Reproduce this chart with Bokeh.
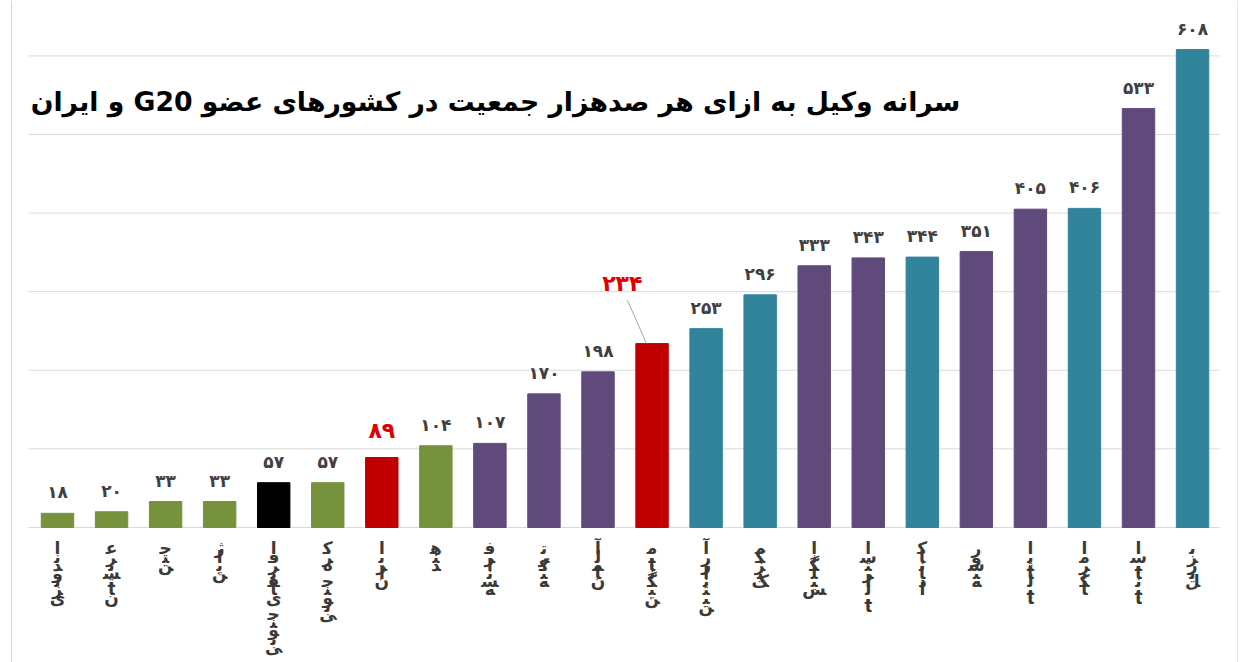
import unicodedata
from bokeh.plotting import figure
from bokeh.models import ColumnDataSource, Range1d, Label, Span
from bokeh.core.properties import value
from bokeh.embed import file_html
from bokeh.resources import INLINE

# ---------------- data ----------------
countries = ["اندونزی", "عربستان", "چین", "ژاپن", "افریقای جنوبی", "کره جنوبی",
             "ایران", "هند", "فرانسه", "ترکیه", "آلمان", "میانگین", "آرژانتین",
             "مکزیک", "انگلیس", "استرالیا", "کانادا", "روسیه", "ایتالیا",
             "امریکا", "اسپانیا", "برزیل"]
values = [18, 20, 33, 33, 57, 57, 89, 104, 107, 170, 198, 234, 253,
          296, 333, 343, 344, 351, 405, 406, 533, 608]
groups = ["g", "g", "g", "g", "k", "g", "r", "g", "p", "p", "p", "r", "t",
          "t", "p", "p", "t", "p", "p", "t", "p", "t"]
y_ticks = [0, 100, 200, 300, 400, 500, 600]
title_text = "سرانه وکیل به ازای هر صدهزار جمعیت در کشورهای عضو G20 و ایران"

palette = {"g": "#76923C", "k": "#000000", "r": "#C00000",
           "p": "#604A7B", "t": "#31849B"}
FONT = "DejaVu Sans"

# ---------- helpers: stacked (vertical) Persian labels ----------
RIGHT_JOIN = set("اآأإدذرزژوؤة")


def is_ar(c):
    return "\u0600" <= c <= "\u06FF"


def pform(c, f):
    try:
        return unicodedata.lookup(unicodedata.name(c) + " " + f + " FORM")
    except (KeyError, ValueError):
        return c


def shaped_chars(word):
    out = []
    for i, c in enumerate(word):
        if not is_ar(c):
            out.append(c)
            continue
        prev = word[i - 1] if i > 0 else ""
        nxt = word[i + 1] if i + 1 < len(word) else ""
        jp = bool(prev) and is_ar(prev) and prev not in RIGHT_JOIN
        jn = (c not in RIGHT_JOIN) and bool(nxt) and is_ar(nxt)
        f = "MEDIAL" if (jp and jn) else "FINAL" if jp else "INITIAL" if jn else "ISOLATED"
        out.append(pform(c, f))
    return out


def fa_digits(n):
    return str(n).translate(str.maketrans("0123456789", "۰۱۲۳۴۵۶۷۸۹"))


xs = list(range(len(countries)))
colors = [palette[g] for g in groups]
labels = [fa_digits(v) for v in values]

# one text item per stacked glyph (Excel-style "stacked" category labels)
PITCH, TOP = 8.2, 21
lab_x, lab_dy, lab_t = [], [], []
for i, name in enumerate(countries):
    for k, ch in enumerate(shaped_chars(name)):
        if ch.strip():
            lab_x.append(xs[i])
            lab_dy.append(TOP + k * PITCH)
            lab_t.append(ch)

# ---------------- figure ----------------
W, H = 1240, 662
p = figure(width=W, height=H, x_range=Range1d(-1.0546, 21.887),
           y_range=Range1d(-171.8, 670.5), output_backend="svg",
           toolbar_location=None, min_border=0)
p.outline_line_color = None
p.background_fill_color = "white"
p.border_fill_color = "white"
p.axis.visible = False
p.grid.visible = False

# grid lines (horizontal, across the category band)
n = len(countries)
p.segment(x0=[-0.5365] * len(y_ticks), x1=[n - 0.502] * len(y_ticks),
          y0=y_ticks, y1=y_ticks, line_color="#D9D9D9", line_width=1)

# outer frame lines
p.add_layout(Span(location=-0.851, dimension="height",
                  line_color="#D9D9D9", line_width=1))
p.add_layout(Span(location=21.832, dimension="height",
                  line_color="#E6E6E6", line_width=1))

src = ColumnDataSource(dict(x=xs, top=values, color=colors, label=labels))
p.vbar(x="x", top="top", width=0.6, color="color", source=src)

# category labels (stacked vertically)
src_l = ColumnDataSource(dict(x=lab_x, dy=lab_dy, t=lab_t))
p.text(x="x", y=0, text="t", source=src_l, y_offset="dy", text_align="center",
       text_baseline="middle", text_font=value(FONT),
       text_font_style="bold", text_font_size="17px", text_color="#3A3A3A")

# value labels (normal)
norm = [i for i in xs if groups[i] != "r"]
src_n = ColumnDataSource(dict(x=[xs[i] for i in norm],
                              y=[values[i] for i in norm],
                              t=[labels[i] for i in norm]))
p.text(x="x", y="y", text="t", source=src_n, text_align="center",
       text_baseline="middle", y_offset=-21, text_font=value(FONT),
       text_font_style="bold", text_font_size="17px", text_color="#404040")

# Iran label (red)
i_ir = countries.index("ایران")
p.text(x=[xs[i_ir]], y=[values[i_ir]], text=[labels[i_ir]],
       text_align="center", text_baseline="middle", y_offset=-27,
       text_font=value(FONT), text_font_style="bold", text_font_size="22px",
       text_color="#E00000")

# average label (red, offset with leader line)
i_av = countries.index("میانگین")
xa = xs[i_av]
p.segment(x0=[xa - 0.454], y0=[values[i_av] + 55], x1=[xa - 0.103], y1=[values[i_av]],
          line_color="#A6A6A6", line_width=1)
p.text(x=[xa - 0.55], y=[values[i_av] + 76], text=[labels[i_av]],
       text_align="center", text_baseline="middle",
       text_font=value(FONT), text_font_style="bold", text_font_size="22px",
       text_color="#E00000")

# title
p.add_layout(Label(x=16.7, y=542, text="\u202B" + title_text + "\u202C",
                   text_align="right", text_baseline="middle",
                   text_font=FONT, text_font_style="bold",
                   text_font_size="26.7px", text_color="#000000"))

open("out.html", "w").write(file_html(p, INLINE))
